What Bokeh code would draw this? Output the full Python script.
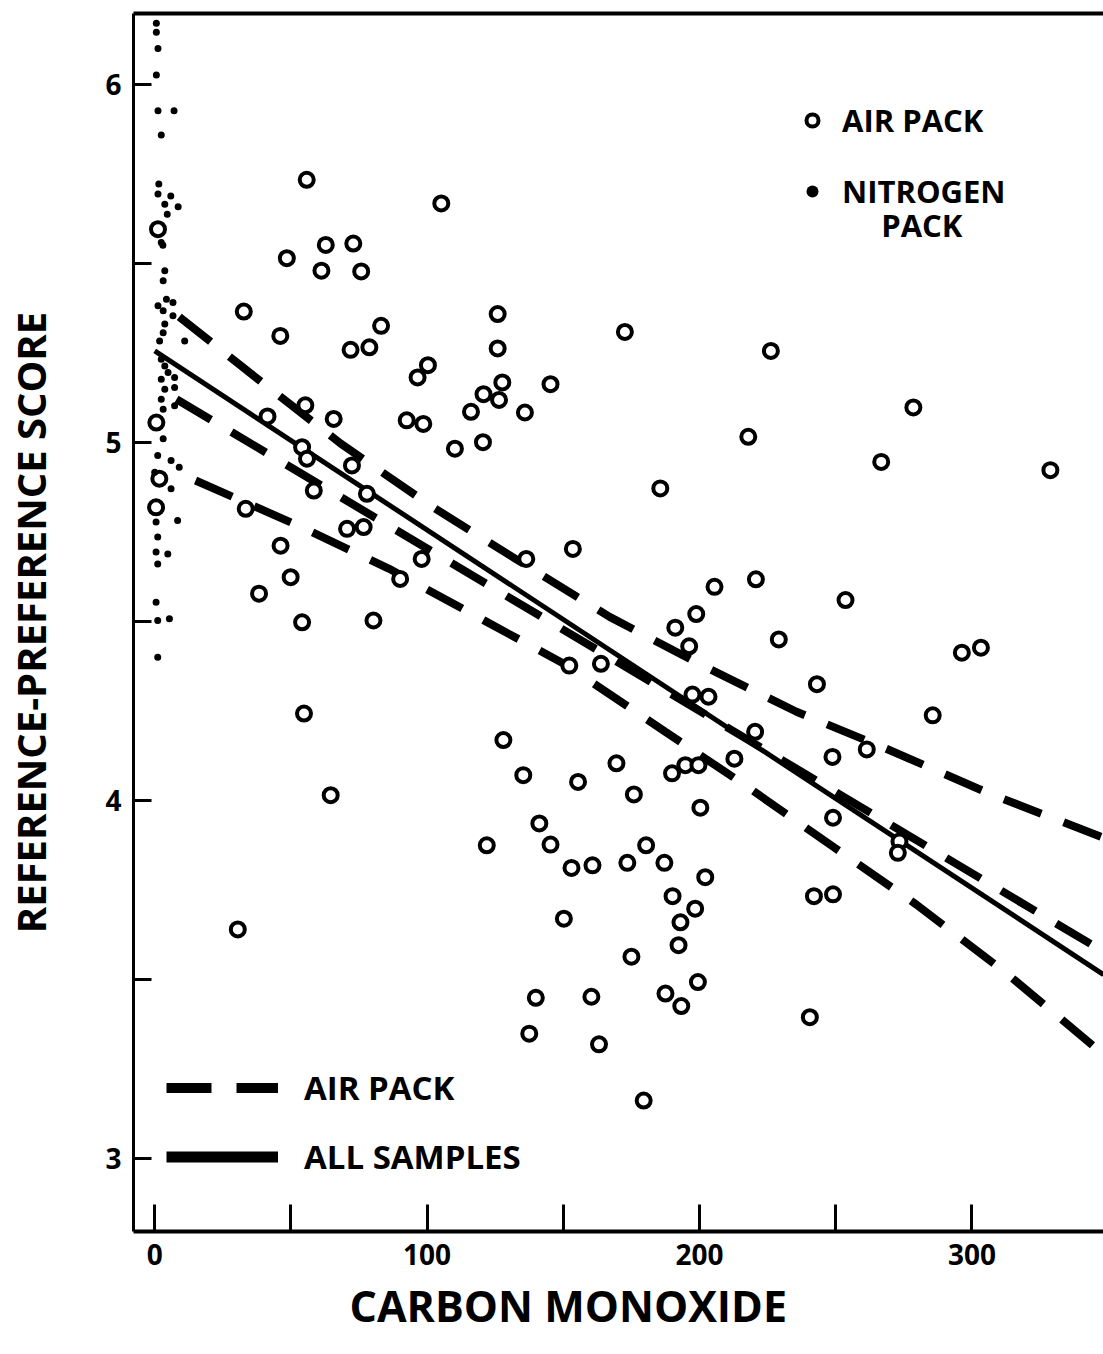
from bokeh.plotting import figure
from bokeh.models import Range1d, FixedTicker, LinearAxis, Legend, LegendItem, Label, Title
from bokeh.embed import file_html
from bokeh.resources import INLINE

# ---------------- data ----------------
# Air pack samples (open circles)
air_x = [1.2, 0.6, 1.7, 0.5,
         55.8, 105.2, 62.8, 72.9, 48.5, 61.2, 75.8, 32.7, 125.9, 83.1,
         46.1, 125.9, 71.9, 78.8, 100.3, 96.5, 127.6, 145.3, 120.7, 126.4,
         116.1, 135.9, 172.6, 41.4, 55.3, 65.7, 92.5, 98.6, 110.2, 120.5,
         54.1, 55.9, 72.4, 58.4, 77.9, 33.4, 70.6, 76.7, 46.2, 136.4,
         153.5, 98.0, 49.9, 90.1, 38.3, 54.1, 80.3, 152.2, 163.8, 54.8,
         128.0, 169.5, 135.3, 155.4, 64.6, 141.2, 217.9, 266.7, 328.8, 185.6,
         205.5, 220.7, 253.6, 198.8, 191.1, 196.2, 229.1, 296.3, 303.3, 243.1,
         197.4, 203.3, 285.6, 220.4, 261.4, 212.8, 248.8, 189.9, 194.8, 199.6,
         175.9, 200.3, 249.0, 180.4, 173.5, 187.1, 202.1, 190.1, 198.4, 193.0,
         192.3, 175.0, 199.4, 187.5, 193.3, 179.5, 242.0, 249.0, 240.5, 273.4,
         272.8, 30.5, 121.9, 145.3, 153.0, 160.7, 150.2, 139.9, 160.3, 137.5,
         163.1, 226.2, 278.5]
air_y = [5.595, 5.055, 4.898, 4.818,
         5.733, 5.667, 5.551, 5.555, 5.514, 5.479, 5.477, 5.365, 5.358, 5.325,
         5.297, 5.262, 5.258, 5.265, 5.215, 5.181, 5.167, 5.162, 5.134, 5.118,
         5.085, 5.083, 5.308, 5.072, 5.103, 5.065, 5.061, 5.051, 4.982, 5.000,
         4.986, 4.954, 4.935, 4.865, 4.856, 4.814, 4.758, 4.763, 4.711, 4.674,
         4.702, 4.674, 4.623, 4.618, 4.577, 4.497, 4.502, 4.376, 4.381, 4.242,
         4.168, 4.103, 4.070, 4.051, 4.014, 3.935, 5.015, 4.945, 4.922, 4.871,
         4.596, 4.617, 4.559, 4.520, 4.482, 4.430, 4.449, 4.412, 4.426, 4.324,
         4.295, 4.289, 4.237, 4.191, 4.142, 4.116, 4.121, 4.075, 4.098, 4.098,
         4.016, 3.979, 3.951, 3.874, 3.825, 3.825, 3.785, 3.732, 3.697, 3.659,
         3.595, 3.563, 3.492, 3.460, 3.425, 3.161, 3.732, 3.737, 3.394, 3.885,
         3.853, 3.639, 3.874, 3.876, 3.811, 3.818, 3.669, 3.448, 3.451, 3.348,
         3.318, 5.255, 5.097]

# Nitrogen pack samples (small dots)
n2_x = [0.6, 0.6, 1.2, 0.6, 1.2, 7.1, 2.4, 1.5, 1.2, 5.9, 3.7, 8.6, 4.6,
        2.4, 3.0, 3.7, 3.1, 4.3, 6.7, 1.2, 3.1, 6.7, 3.7, 3.1, 11.0, 1.8,
        2.4, 3.7, 4.9, 7.3, 2.4, 7.3, 3.7, 2.4, 7.3, 3.1, 3.1, 1.1, 6.0,
        9.0, 0.0, 6.0, 0.5, 8.4, 1.1, 0.5, 4.8, 1.1, 0.5, 5.4, 1.1, 1.1]
n2_y = [6.170, 6.145, 6.100, 6.026, 5.926, 5.926, 5.858, 5.721, 5.693, 5.688,
        5.665, 5.658, 5.637, 5.558, 5.550, 5.479, 5.451, 5.399, 5.390, 5.381,
        5.367, 5.353, 5.330, 5.306, 5.283, 5.283, 5.232, 5.213, 5.195, 5.181,
        5.176, 5.153, 5.148, 5.120, 5.102, 5.092, 5.010, 4.963, 4.949, 4.930,
        4.916, 4.870, 4.777, 4.781, 4.735, 4.693, 4.688, 4.660, 4.553, 4.507,
        4.502, 4.399]

# Regression line, all samples (solid)
all_x = [0.0, 348.3]
all_y = [5.255, 3.513]

# Regression line, air pack (dashed)
air_fit_x = [8.0, 348.3]
air_fit_y = [5.120, 3.577]

# Confidence band of the air-pack regression (dashed curves)
band_up_x = [9.0, 39.4, 68.3, 101.8, 132.3, 167.0, 199.6, 235.6, 268.5, 306.3, 348.3]
band_up_y = [5.350, 5.167, 4.996, 4.820, 4.675, 4.512, 4.382, 4.247, 4.144, 4.019, 3.895]
band_lo_x = [15.0, 53.6, 85.9, 120.7, 151.2, 187.5, 216.7, 249.6, 279.5, 311.8, 348.3]
band_lo_y = [4.893, 4.764, 4.647, 4.503, 4.377, 4.191, 4.042, 3.867, 3.709, 3.522, 3.290]

x_ticks = [0, 100, 200, 300]
x_minor = [50, 150, 250]
y_ticks = [3, 4, 5, 6]
y_minor = [3.5, 4.5, 5.5]

NAN = float("nan")

# ---------------- figure ----------------
FONT = "Open Sans"

p = figure(width=1103, height=1353, output_backend="svg", toolbar_location=None,
           x_range=Range1d(-7.79, 348.3), y_range=Range1d(2.7953, 6.1975),
           min_border_left=129, min_border_right=0, min_border_top=13,
           min_border_bottom=122, background_fill_color="white",
           border_fill_color="white")
p.outline_line_color = None
p.xgrid.grid_line_color = None
p.ygrid.grid_line_color = None

xa = p.xaxis[0]
xa.ticker = FixedTicker(ticks=x_ticks, minor_ticks=x_minor)
xa.axis_line_width = 4
xa.axis_line_color = "black"
xa.major_tick_in = 27
xa.major_tick_out = 0
xa.minor_tick_in = 27
xa.minor_tick_out = 0
xa.major_tick_line_width = 3
xa.minor_tick_line_width = 3
xa.major_tick_line_color = "black"
xa.minor_tick_line_color = "black"
xa.major_label_text_font = FONT
xa.major_label_text_font_size = "28px"
xa.major_label_text_font_style = "bold"
xa.major_label_text_color = "black"
xa.major_label_standoff = 12

ya = p.yaxis[0]
ya.ticker = FixedTicker(ticks=y_ticks, minor_ticks=y_minor)
ya.axis_line_width = 3
ya.axis_line_color = "black"
ya.major_tick_in = 18
ya.major_tick_out = 0
ya.minor_tick_in = 18
ya.minor_tick_out = 0
ya.major_tick_line_width = 3
ya.minor_tick_line_width = 3
ya.major_tick_line_color = "black"
ya.minor_tick_line_color = "black"
ya.major_label_text_font = FONT
ya.major_label_text_font_size = "28px"
ya.major_label_text_font_style = "bold"
ya.major_label_text_color = "black"
ya.major_label_standoff = 12
ya.axis_label = "REFERENCE-PREFERENCE SCORE"
ya.axis_label_text_font = FONT
ya.axis_label_text_font_size = "40px"
ya.axis_label_text_font_style = "bold"
ya.axis_label_text_color = "black"
ya.axis_label_standoff = 44

top_axis = LinearAxis(ticker=FixedTicker(ticks=[]), axis_line_width=4,
                      axis_line_color="black", major_tick_in=0, major_tick_out=0,
                      minor_tick_in=0, minor_tick_out=0, major_label_standoff=0,
                      major_label_text_font_size="0px")
p.add_layout(top_axis, "above")

# x-axis title (placed like the reference, left of the frame centre)
p.add_layout(Title(text="CARBON MONOXIDE", align="left", offset=216,
                   text_font=FONT, text_font_size="43px", text_font_style="bold",
                   text_color="black", standoff=13), "below")

# ---------------- lines ----------------
p.line(band_up_x, band_up_y, line_width=8, line_dash="40 24", line_color="black")
p.line(band_lo_x, band_lo_y, line_width=8, line_dash="40 24", line_color="black")
p.line(air_fit_x, air_fit_y, line_width=8, line_dash="40 24", line_color="black")
p.line(all_x, all_y, line_width=5, line_color="black")

# ---------------- points ----------------
air_r = p.scatter(air_x, air_y, marker="circle", size=14, line_width=4,
                  line_color="black", fill_color="white")
n2_r = p.scatter(n2_x, n2_y, marker="circle", size=7, fill_color="black",
                 line_color=None)

# legend swatches for the line styles (nothing drawn in the plot area)
leg_air = p.line(x=[NAN], y=[NAN], line_width=10, line_dash="45 25", line_color="black")
leg_all = p.line(x=[NAN], y=[NAN], line_width=11, line_color="black")

leg_top = Legend(items=[LegendItem(label="AIR PACK", renderers=[air_r]),
                        LegendItem(label="NITROGEN", renderers=[n2_r])],
                 location=(664, 1019), glyph_width=30, glyph_height=42,
                 label_height=42, label_width=10, label_standoff=15, spacing=29,
                 padding=0, margin=0, border_line_color=None,
                 background_fill_alpha=0, label_text_font=FONT,
                 label_text_font_size="31px", label_text_font_style="bold",
                 label_text_color="black")
p.add_layout(leg_top)

leg_bot = Legend(items=[LegendItem(label="AIR PACK", renderers=[leg_air]),
                        LegendItem(label="ALL SAMPLES", renderers=[leg_all])],
                 location=(33, 52), glyph_width=112, glyph_height=45,
                 label_height=45, label_width=10, label_standoff=26, spacing=24,
                 padding=0, margin=0, border_line_color=None,
                 background_fill_alpha=0, label_text_font=FONT,
                 label_text_font_size="33px", label_text_font_style="bold",
                 label_text_color="black")
p.add_layout(leg_bot)

p.add_layout(Label(x=281.6, y=5.608, text="PACK", text_align="center",
                   text_baseline="alphabetic", text_font=FONT,
                   text_font_size="31px", text_font_style="bold",
                   text_color="black"))

open("out.html", "w").write(file_html(p, INLINE))
